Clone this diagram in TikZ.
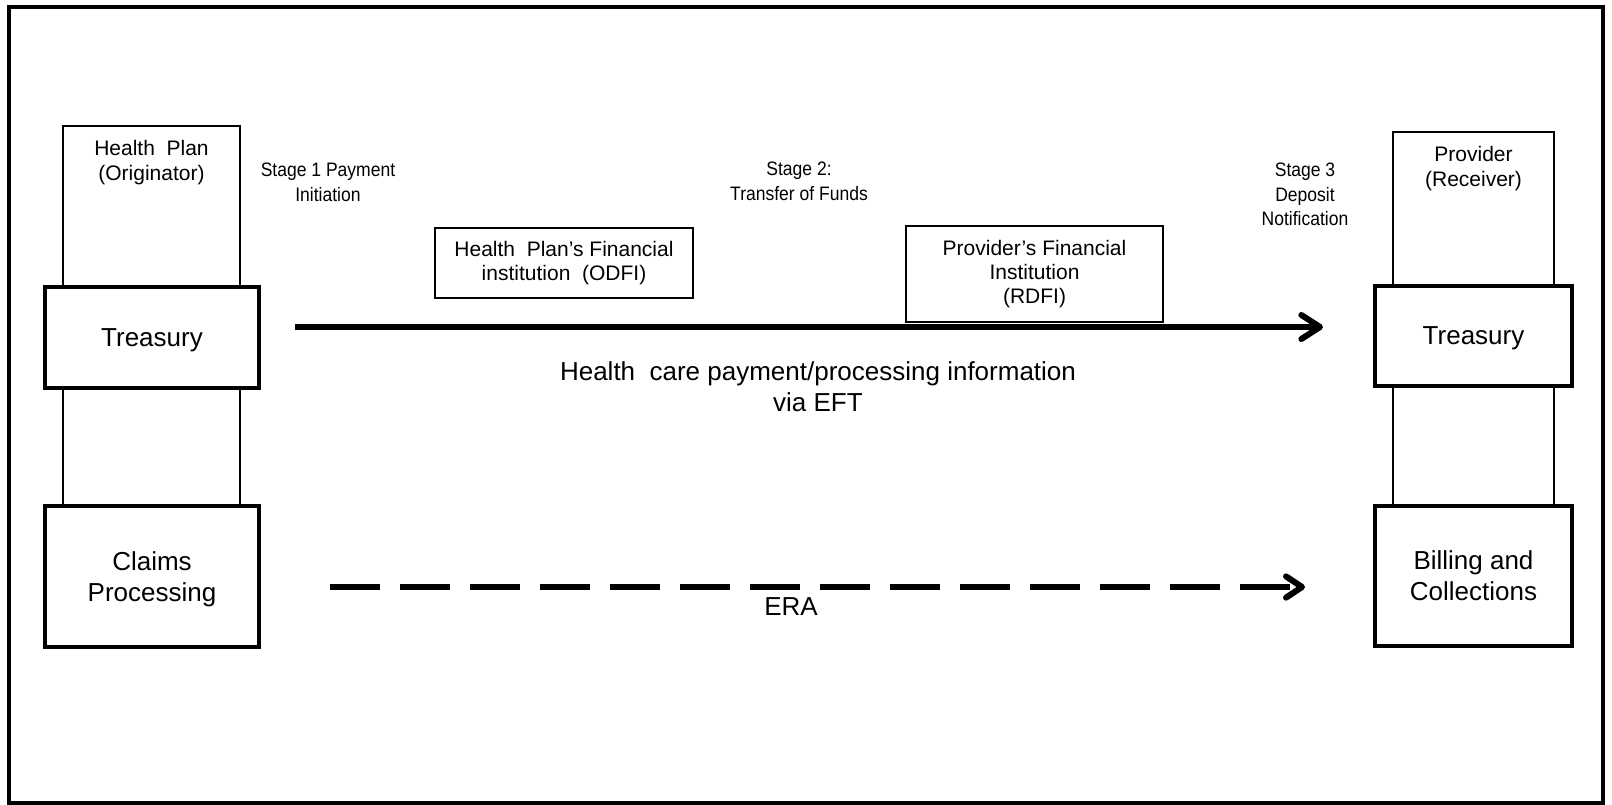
\documentclass[tikz,border=0pt]{standalone}
\usepackage{fontspec}
\setmainfont{Liberation Sans}
\newfontfamily\narrowsans[FakeStretch=0.9]{Liberation Sans}
\usetikzlibrary{arrows.meta}
\begin{document}
\begin{tikzpicture}[x=0.75pt,y=-0.75pt,
  colbox/.style={draw, line width=1.3pt, fill=white, inner sep=0pt},
  unitbox/.style={draw, line width=3pt, fill=white, inner sep=0pt, align=center,
    text depth=0pt, font=\fontsize{19.5}{23.25}\selectfont},
  bankbox/.style={draw, line width=1.4pt, fill=white, inner sep=0pt, align=center,
    font=\fontsize{15.75}{18.2}\selectfont},
  hdr/.style={inner sep=0pt, align=center, font=\fontsize{15.75}{18.75}\selectfont},
  stagetxt/.style={inner sep=0pt, align=center, font=\narrowsans\fontsize{14.6}{18.4}\selectfont},
  bigtxt/.style={inner sep=0pt, align=center, font=\fontsize{19.5}{23.25}\selectfont},
  flow/.style={line width=4.5pt, -{Straight Barb[length=14pt,width=18pt,line cap=round,line join=round]}},
  dashflow/.style={line width=4.5pt, dash pattern=on 37.5pt off 15pt,
    -{Straight Barb[length=12pt,width=16pt,line cap=round,line join=round]}}
]
\useasboundingbox (0,0) rectangle (1612,805);

% outer frame
\draw[line width=2.6pt] (9,7) rectangle (1603,803);

% originator column
\node[colbox, minimum width=132.75pt, minimum height=285pt] (hpcol) at (151.5,316) {};
\node[hdr] (hptitle) at (151.5,162.5) {Health\ \ Plan\\(Originator)};
\node[unitbox, minimum width=160.5pt, minimum height=75.75pt] (ltreas) at (152,337.5) {Treasury};
\node[unitbox, minimum width=160.5pt, minimum height=105.75pt] (claims) at (152,576.5) {Claims\\Processing};

% receiver column
\node[colbox, minimum width=120.75pt, minimum height=280.5pt] (prcol) at (1473.5,319) {};
\node[hdr] (prtitle) at (1473.5,169) {Provider\\(Receiver)};
\node[unitbox, minimum width=147.75pt, minimum height=75pt] (rtreas) at (1473.5,336) {Treasury};
\node[unitbox, minimum width=147.75pt, minimum height=105pt] (billing) at (1473.5,576) {Billing and\\Collections};

% financial institutions
\node[bankbox, minimum width=193.5pt, minimum height=52.5pt] (odfi) at (564,263)
  {Health\ \ Plan’s Financial\\institution\ \ (ODFI)};
\node[bankbox, minimum width=192.75pt, minimum height=72pt] (rdfi) at (1034.5,274)
  {Provider’s Financial\\Institution\\(RDFI)};

% stage labels
\node[stagetxt] (stage1) at (328,182.5) {Stage 1 Payment\\Initiation};
\node[stagetxt] (stage2) at (799,181.5) {Stage 2:\\Transfer of Funds};
\node[stagetxt] (stage3) at (1305,194.5) {Stage 3\\Deposit\\Notification};

% payment flow
\coordinate (eftA) at (295,327);
\coordinate (eftB) at (1323,327);
\draw[flow] (eftA) -- (eftB);
\node[bigtxt] (eftlbl) at (818,387) {Health\ \ care payment/processing information\\via EFT};

% remittance flow
\coordinate (eraA) at (330,587);
\coordinate (eraB) at (1305,587);
\draw[dashflow] (eraA) -- (eraB);
\node[bigtxt] (eralbl) at (791,607) {ERA};
\end{tikzpicture}
\end{document}
